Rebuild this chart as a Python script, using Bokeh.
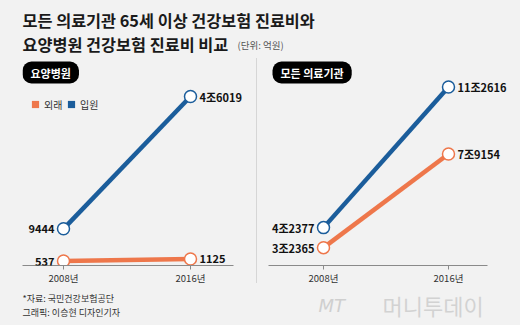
from bokeh.plotting import figure
from bokeh.models import Range1d, FixedTicker, Label, LabelSet, Legend, LegendItem, Div, ColumnDataSource
from bokeh.layouts import column, row
from bokeh.embed import file_html
from bokeh.resources import INLINE
from bokeh.core.properties import value

BG = "#f2f2f2"
BLUE = "#1b5d9b"
ORANGE = "#ee774b"
FONT = "Noto Sans CJK KR"

# ---------------- data (단위: 억원) ----------------
years = [2008, 2016]
year_labels = ["2008년", "2016년"]

# 요양병원
nursing_outpatient = [537, 1125]
nursing_inpatient = [9444, 46019]
nursing_out_labels = ["537", "1125"]
nursing_in_labels = ["9444", "4조6019"]

# 모든 의료기관
all_outpatient = [32365, 79154]
all_inpatient = [42377, 112616]
all_out_labels = ["3조2365", "7조9154"]
all_in_labels = ["4조2377", "11조2616"]

series_names = ["외래", "입원"]

title_lines = ["모든 의료기관 65세 이상 건강보험 진료비와", "요양병원 건강보험 진료비 비교"]
unit_text = "(단위: 억원)"
source_lines = ["*자료: 국민건강보험공단", "그래픽: 이승현 디자인기자"]


def blank(width, height, x_end, y_end):
    p = figure(width=width, height=height, output_backend="svg", toolbar_location=None,
               x_range=Range1d(0, x_end), y_range=Range1d(y_end, 0),
               x_axis_location=None, y_axis_location=None,
               min_border=0, background_fill_color=BG, border_fill_color=BG,
               outline_line_color=None)
    p.grid.visible = False
    return p


def panel(width, x_range, axis_bounds, y_range, bl, badge, badge_x, series, legend=False):
    p = figure(width=width, height=233, output_backend="svg", toolbar_location=None,
               x_range=x_range, y_range=y_range, y_axis_location=None,
               min_border_left=bl, min_border_right=0, min_border_top=0, min_border_bottom=23,
               background_fill_color=BG, border_fill_color=BG, outline_line_color=None)
    p.grid.visible = False
    ax = p.xaxis[0]
    ax.bounds = axis_bounds
    ax.ticker = FixedTicker(ticks=years)
    ax.major_label_overrides = {y: l for y, l in zip(years, year_labels)}
    ax.axis_line_color = "#8a8a8a"
    ax.major_tick_line_color = "#8a8a8a"
    ax.major_tick_in = 0
    ax.major_tick_out = 4
    ax.minor_tick_line_color = None
    ax.major_label_standoff = 1
    ax.major_label_text_font = FONT
    ax.major_label_text_font_size = "9.5px"
    ax.major_label_text_color = "#333333"

    for vals, color, _ in series:
        p.line(years, vals, line_width=4.5, line_color=color)
    for vals, color, _ in series:
        p.scatter(years, vals, size=12, fill_color="white", line_color=color, line_width=1.5)
    for vals, color, labels in series:
        src0 = ColumnDataSource(dict(x=years[:1], y=vals[:1], t=labels[:1]))
        src1 = ColumnDataSource(dict(x=years[1:], y=vals[1:], t=labels[1:]))
        for src, align, off in [(src0, "right", -9), (src1, "left", 9)]:
            p.add_layout(LabelSet(x="x", y="y", text="t", source=src, text_align=align,
                                  text_baseline="middle", x_offset=off, text_font=value(FONT),
                                  text_font_style="bold", text_font_size="11px",
                                  text_color="#111111"))

    p.add_layout(Label(x=badge_x, y=182, x_units="screen", y_units="screen", text=badge,
                       text_color="white", text_font=FONT, text_font_style="bold",
                       text_font_size="11px", background_fill_color="black",
                       border_radius=9, padding=dict(left=8, right=8, top=3, bottom=3)))
    if legend:
        for (name, (vals, color, _)), lx in zip(zip(series_names, series), [4, 40]):
            r = p.scatter(years, vals, marker="square", size=0, fill_color=color, line_color=None)
            lg = Legend(items=[LegendItem(label=name, renderers=[r])], location=(lx, 152),
                        background_fill_alpha=0, border_line_alpha=0,
                        label_text_font=FONT, label_text_font_size="10px",
                        label_text_color="#333333", glyph_width=18, glyph_height=18,
                        label_standoff=0, spacing=0, padding=0, margin=0)
            p.add_layout(lg)
    return p


# header
header = blank(520, 55, 520, 55)
header.text(x=[22, 22], y=[19, 43], text=title_lines, text_font=value(FONT),
            text_font_style="bold", text_font_size="16.3px", text_color="#1a1a1a",
            text_baseline="middle")
header.text(x=[237], y=[44], text=[unit_text], text_font=value(FONT),
            text_font_size="9.5px", text_color="#555555", text_baseline="middle")

left = panel(256, Range1d(2005.417, 2020.157), (2005.417, 2018.709), Range1d(-691, 57353),
             22, "요양병원", 0,
             [(nursing_outpatient, ORANGE, nursing_out_labels),
              (nursing_inpatient, BLUE, nursing_in_labels)], legend=True)
right = panel(263, Range1d(2003.776, 2020.608), (2004.48, 2018.496), Range1d(23450, 128380),
              0, "모든 의료기관", 15,
              [(all_outpatient, ORANGE, all_out_labels),
               (all_inpatient, BLUE, all_in_labels)])

divider = Div(text="", width=1, height=225, margin=(3, 0, 5, 0),
              styles={"background-color": "#d6d6d6"})

footer = blank(520, 37, 520, 37)
footer.text(x=[22, 22], y=[10, 24], text=source_lines, text_font=value(FONT),
            text_font_size="9px", text_color="#333333", text_baseline="middle")
footer.text(x=[318], y=[16.5], text=["MT"], text_font=value("DejaVu Sans"),
            text_font_style="italic", text_font_size="18px", text_color="#cfcfcf",
            text_baseline="middle")
footer.text(x=[382], y=[16.5], text=["머니투데이"], text_font=value(FONT),
            text_font_size="22px", text_color="#d2d2d2", text_baseline="middle")

layout = column(header, row(left, divider, right, spacing=0), footer, spacing=0,
                styles={"background-color": BG})

open("out.html", "w").write(file_html(layout, INLINE))
